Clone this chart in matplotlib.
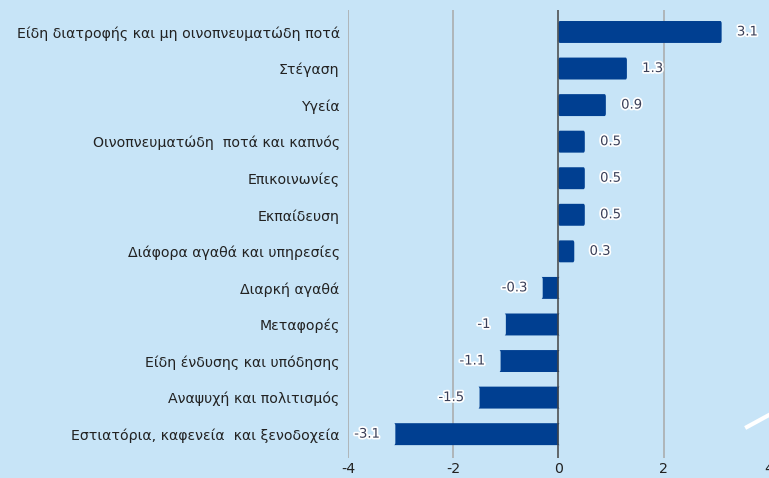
import matplotlib
matplotlib.use("Agg")
import matplotlib.pyplot as plt
from matplotlib.patches import FancyBboxPatch
from matplotlib.lines import Line2D
import matplotlib.patheffects as pe

categories = [
    "Είδη διατροφής και μη οινοπνευματώδη ποτά",
    "Στέγαση",
    "Υγεία",
    "Οινοπνευματώδη  ποτά και καπνός",
    "Επικοινωνίες",
    "Εκπαίδευση",
    "Διάφορα αγαθά και υπηρεσίες",
    "Διαρκή αγαθά",
    "Μεταφορές",
    "Είδη ένδυσης και υπόδησης",
    "Αναψυχή και πολιτισμός",
    "Εστιατόρια, καφενεία  και ξενοδοχεία",
]
values = [3.1, 1.3, 0.9, 0.5, 0.5, 0.5, 0.3, -0.3, -1, -1.1, -1.5, -3.1]
value_labels = ["3.1", "1.3", "0.9", "0.5", "0.5", "0.5", "0.3", "-0.3", "-1", "-1.1", "-1.5", "-3.1"]
xticks = [-4, -2, 0, 2, 4]

bg = "#c7e4f7"
bar_color = "#003f91"

plt.rcParams['font.family'] = ['DejaVu Sans']

fig = plt.figure(figsize=(7.69, 4.78), dpi=100, facecolor=bg)
ax = fig.add_axes([0.4525, 0.042, 0.5475, 0.937])
ax.set_facecolor(bg)

pos = list(range(len(categories)))
bars = ax.barh(pos, values, height=0.6, color=bar_color)

# rounded corners
for b in bars:
    b.set_visible(False)
    rb = FancyBboxPatch((b.get_x(), b.get_y()), b.get_width(), b.get_height(),
                        boxstyle="round,pad=0,rounding_size=0.025",
                        mutation_aspect=2.8, facecolor=bar_color,
                        edgecolor="none", zorder=3)
    ax.add_patch(rb)

# value labels
for p, v, lab in zip(pos, values, value_labels):
    off = 11 if v >= 0 else -11
    ha = "left" if v >= 0 else "right"
    ax.annotate(lab, (v, p), xytext=(off, 0), textcoords="offset points",
                ha=ha, va="center", fontsize=9.5, color="#3a3f58",
                path_effects=[pe.withStroke(linewidth=2.5, foreground="white")],
                zorder=5)

ax.set_xlim(-4, 4)
ax.set_ylim(11.65, -0.6)
ax.set_xticks(xticks)
ax.set_xticklabels([str(t) for t in xticks])
ax.set_yticks(pos)
ax.set_yticklabels(categories)
ax.tick_params(axis="both", length=0, labelsize=10.2, colors="#222222")
ax.tick_params(axis="y", pad=6)
ax.tick_params(axis="x", pad=3)

for s in ax.spines.values():
    s.set_visible(False)

# grid lines (the one at 4 lies on the picture edge)
for t in xticks[:-1]:
    if t == 0:
        ax.axvline(t, color="#444444", lw=1.1, zorder=4)
    else:
        ax.axvline(t, color="#a8a8a8", lw=1.1, zorder=1)

# white decorative stroke bottom-right
fig.add_artist(Line2D([747 / 769, 1.0], [1 - 427 / 478, 1 - 415 / 478],
                      transform=fig.transFigure, color="white", lw=3))

fig.savefig("out.png", dpi=100, facecolor=bg)
